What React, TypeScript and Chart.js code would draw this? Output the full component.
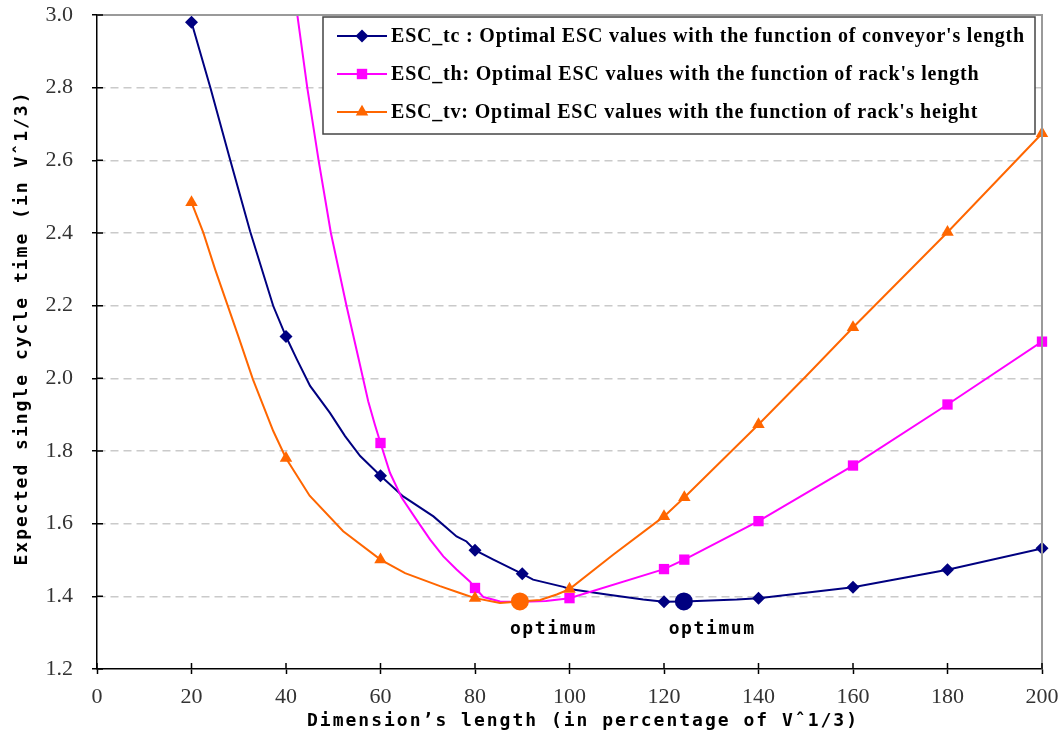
import React, { useEffect, useRef } from 'react';
import { Chart, registerables } from 'chart.js';

Chart.register(...registerables);

// Axis ticks
const xTicks = [0, 20, 40, 60, 80, 100, 120, 140, 160, 180, 200];
const yTicks = [1.2, 1.4, 1.6, 1.8, 2.0, 2.2, 2.4, 2.6, 2.8, 3.0];

// ESC_tc (conveyor's length) – curve and marked points
const tcLineX = [20, 24, 28, 32.4, 37.3, 40, 42.3, 45.1, 49.3, 52.5, 55.7, 60, 64.8, 71.2, 76.1, 78.2, 80, 83.9, 90, 92.3, 98.7, 100, 107.9, 115.6, 120, 124.2, 135.4, 140, 160, 180, 200];
const tcLineY = [2.98, 2.8, 2.61, 2.405, 2.199, 2.115, 2.052, 1.979, 1.905, 1.841, 1.786, 1.732, 1.675, 1.62, 1.565, 1.551, 1.527, 1.501, 1.462, 1.446, 1.426, 1.42, 1.405, 1.391, 1.385, 1.386, 1.391, 1.395, 1.425, 1.473, 1.532];
const tcMarkX = [20, 40, 60, 80, 90, 120, 140, 160, 180, 200];
const tcMarkY = [2.98, 2.115, 1.732, 1.527, 1.462, 1.385, 1.395, 1.425, 1.473, 1.532];

// ESC_th (rack's length)
const thLineX = [40, 42.4, 44.5, 46.9, 49.5, 52.8, 55.4, 57.4, 58.8, 60, 62, 64.5, 67.6, 70.5, 73.3, 76.1, 78.9, 80, 81.8, 85.3, 90, 95, 100, 120, 124.3, 140, 160, 180, 200];
const thLineY = [3.23, 3.0, 2.8, 2.6, 2.4, 2.2, 2.052, 1.937, 1.873, 1.822, 1.74, 1.671, 1.611, 1.556, 1.51, 1.474, 1.441, 1.423, 1.398, 1.386, 1.385, 1.387, 1.395, 1.475, 1.501, 1.607, 1.76, 1.928, 2.101];
const thMarkX = [60, 80, 100, 120, 124.3, 140, 160, 180, 200];
const thMarkY = [1.822, 1.423, 1.395, 1.475, 1.501, 1.607, 1.76, 1.928, 2.101];

// ESC_tv (rack's height)
const tvLineX = [20, 22.5, 25, 29.9, 33, 37.3, 40, 45, 52.1, 60, 65.2, 72.6, 76.8, 80, 85.3, 89.5, 93.8, 97.3, 100, 109.3, 120, 124.3, 140, 150, 160, 180, 200];
const tvLineY = [2.484, 2.401, 2.3, 2.116, 1.997, 1.855, 1.78, 1.677, 1.579, 1.501, 1.464, 1.428, 1.409, 1.395, 1.382, 1.386, 1.39, 1.405, 1.42, 1.515, 1.62, 1.672, 1.873, 2.005, 2.14, 2.402, 2.674];
const tvMarkX = [20, 40, 60, 80, 100, 120, 124.3, 140, 160, 180, 200];
const tvMarkY = [2.484, 1.78, 1.501, 1.395, 1.42, 1.62, 1.672, 1.873, 2.14, 2.402, 2.674];

// Optimum points
const optX = [89.5, 124.2];
const optY = [1.386, 1.386];
const optLabelX = [96.6, 130.2];
const optLabelY = [1.31, 1.31];
const optLabelText = ['optimum', 'optimum'];

const seriesNames = [
  "ESC_tc : Optimal ESC values with the function of conveyor's length",
  "ESC_th: Optimal ESC values with the function of rack's length",
  "ESC_tv: Optimal ESC values with the function of rack's height",
];
const seriesColors = ['#000080', '#FF00FF', '#FF6600'];
const seriesMarkers = ['diamond', 'square', 'triangle'];

const xTitle = 'Dimension’s length (in percentage of Vˆ1/3)';
const yTitle = 'Expected single cycle time (in Vˆ1/3)';

const W_PAGE = 1059;
const H_PAGE = 737;

const pts = (xs: number[], ys: number[]) => xs.map((x, i) => ({ x, y: ys[i] }));

function drawMarker(ctx: CanvasRenderingContext2D, kind: string, x: number, y: number, color: string) {
  ctx.fillStyle = color;
  ctx.beginPath();
  if (kind === 'diamond') {
    const r = 6.5;
    ctx.moveTo(x, y - r); ctx.lineTo(x + r, y); ctx.lineTo(x, y + r); ctx.lineTo(x - r, y);
  } else if (kind === 'square') {
    const h = 5.2;
    ctx.rect(x - h, y - h, 2 * h, 2 * h);
  } else {
    const r = 7.2;
    ctx.moveTo(x, y - r);
    ctx.lineTo(x + r * 0.866, y + r / 2);
    ctx.lineTo(x - r * 0.866, y + r / 2);
  }
  ctx.closePath();
  ctx.fill();
}

const extras = {
  id: 'extras',
  afterDraw(chart: any) {
    const { ctx, chartArea: ca, scales } = chart;
    const xs = scales.x, ys = scales.y;
    ctx.save();
    // top & right frame
    ctx.strokeStyle = '#9a9a9a';
    ctx.lineWidth = 2;
    ctx.beginPath();
    ctx.moveTo(ca.left, ca.top);
    ctx.lineTo(ca.right, ca.top);
    ctx.lineTo(ca.right, ca.bottom);
    ctx.stroke();
    // inner tick parts
    ctx.strokeStyle = '#000';
    ctx.lineWidth = 1.5;
    ctx.beginPath();
    xTicks.forEach((v) => {
      const px = xs.getPixelForValue(v);
      ctx.moveTo(px, ca.bottom);
      ctx.lineTo(px, ca.bottom - 6);
    });
    yTicks.forEach((v) => {
      const py = ys.getPixelForValue(v);
      ctx.moveTo(ca.left, py);
      ctx.lineTo(ca.left + 6, py);
    });
    ctx.stroke();

    // axis titles
    ctx.fillStyle = '#000';
    ctx.font = 'bold 18px "DejaVu Sans Mono"';
    (ctx as any).letterSpacing = '2px';
    ctx.textAlign = 'center';
    ctx.textBaseline = 'middle';
    ctx.fillText(xTitle, 583, 721);
    ctx.save();
    ctx.translate(22, 328);
    ctx.rotate(-Math.PI / 2);
    ctx.fillText(yTitle, 0, 0);
    ctx.restore();

    // optimum labels
    (ctx as any).letterSpacing = '1.6px';
    optLabelText.forEach((t, i) => {
      ctx.fillText(t, xs.getPixelForValue(optLabelX[i]), ys.getPixelForValue(optLabelY[i]));
    });

    // legend
    (ctx as any).letterSpacing = '0px';
    const L = 323, T = 17, W = 712, H = 117;
    ctx.fillStyle = '#fff';
    ctx.fillRect(L, T, W, H);
    ctx.strokeStyle = '#444';
    ctx.lineWidth = 1.5;
    ctx.strokeRect(L, T, W, H);
    ctx.font = 'bold 20px "Liberation Serif"';
    const w0 = ctx.measureText(seriesNames[0]).width;
    const sp = (634 - w0) / seriesNames[0].length;
    (ctx as any).letterSpacing = `${sp}px`;
    ctx.textAlign = 'left';
    const rows = [36, 74, 112];
    seriesNames.forEach((name, i) => {
      const ry = rows[i];
      ctx.strokeStyle = seriesColors[i];
      ctx.lineWidth = 2;
      ctx.beginPath();
      ctx.moveTo(337, ry);
      ctx.lineTo(387, ry);
      ctx.stroke();
      drawMarker(ctx, seriesMarkers[i], 362, ry, seriesColors[i]);
      ctx.fillStyle = '#000';
      ctx.fillText(name, 391, ry + 1);
    });
    ctx.restore();
  },
};

export default function App() {
  const ref = useRef<HTMLCanvasElement>(null);
  useEffect(() => {
    document.documentElement.style.overflow = 'hidden';
    document.body.style.overflow = 'hidden';
    if (!ref.current) return;
    const lineDs = (label: string, xs: number[], ys: number[], color: string, order: number) => ({
      label,
      data: pts(xs, ys),
      borderColor: color,
      backgroundColor: color,
      borderWidth: 2,
      pointRadius: 0,
      showLine: true,
      tension: 0,
      order,
    });
    const markDs = (label: string, xs: number[], ys: number[], color: string, style: string, r: number, order: number) => ({
      label,
      data: pts(xs, ys),
      borderColor: color,
      backgroundColor: color,
      borderWidth: 0,
      pointStyle: style,
      pointRadius: r,
      showLine: false,
      clip: false,
      order,
    });
    const chart = new Chart(ref.current, {
      type: 'scatter',
      data: {
        datasets: [
          lineDs('tc', tcLineX, tcLineY, seriesColors[0], 6),
          markDs('tcm', tcMarkX, tcMarkY, seriesColors[0], 'rectRot', 6.5, 5),
          lineDs('th', thLineX, thLineY, seriesColors[1], 4),
          markDs('thm', thMarkX, thMarkY, seriesColors[1], 'rect', 7.3, 3),
          lineDs('tv', tvLineX, tvLineY, seriesColors[2], 2),
          markDs('tvm', tvMarkX, tvMarkY, seriesColors[2], 'triangle', 7.2, 1),
          {
            label: 'opt',
            data: pts(optX, optY),
            backgroundColor: [seriesColors[2], seriesColors[0]],
            borderColor: [seriesColors[2], seriesColors[0]],
            borderWidth: 0,
            pointStyle: 'circle',
            pointRadius: 9,
            showLine: false,
            order: 0,
          } as any,
        ],
      },
      options: {
        responsive: false,
        animation: false,
        layout: { padding: { top: 15, right: 17, left: 0, bottom: 0 } },
        plugins: { legend: { display: false }, tooltip: { enabled: false } },
        scales: {
          x: {
            type: 'linear',
            min: 0,
            max: 200,
            afterBuildTicks: (s: any) => { s.ticks = xTicks.map((v) => ({ value: v })); },
            afterFit: (s: any) => { s.height = 68; s.paddingLeft = 0; s.paddingRight = 0; },
            ticks: {
              color: '#333',
              font: { family: '"Liberation Serif"', size: 22 },
              padding: 10,
              maxRotation: 0,
              autoSkip: false,
            },
            grid: { drawOnChartArea: false, drawTicks: true, tickLength: 5, tickColor: '#000', tickWidth: 1.5 },
            border: { display: true, color: '#000', width: 1.5 },
          },
          y: {
            type: 'linear',
            min: 1.2,
            max: 3.0,
            afterBuildTicks: (s: any) => { s.ticks = yTicks.map((v) => ({ value: v })); },
            afterFit: (s: any) => { s.width = 97; s.paddingTop = 0; s.paddingBottom = 0; },
            ticks: {
              color: '#333',
              font: { family: '"Liberation Serif"', size: 22 },
              padding: 19,
              autoSkip: false,
              callback: (v: any) => Number(v).toFixed(1),
            },
            grid: {
              color: (c: any) => (c.index === 0 || c.index === yTicks.length - 1 ? 'rgba(0,0,0,0)' : '#cacaca'),
              lineWidth: 1.5,
              drawTicks: true,
              tickLength: 5,
              tickColor: '#000',
              tickWidth: 1.5,
            },
            border: { display: true, color: '#000', width: 1.5, dash: [8, 5] },
          },
        },
      },
      plugins: [extras],
    } as any);
    return () => chart.destroy();
  }, []);
  return (
    <div style={{ position: 'absolute', left: 0, top: 0, width: W_PAGE, height: H_PAGE }}>
      <canvas ref={ref} width={W_PAGE} height={H_PAGE} style={{ display: 'block' }} />
    </div>
  );
}
